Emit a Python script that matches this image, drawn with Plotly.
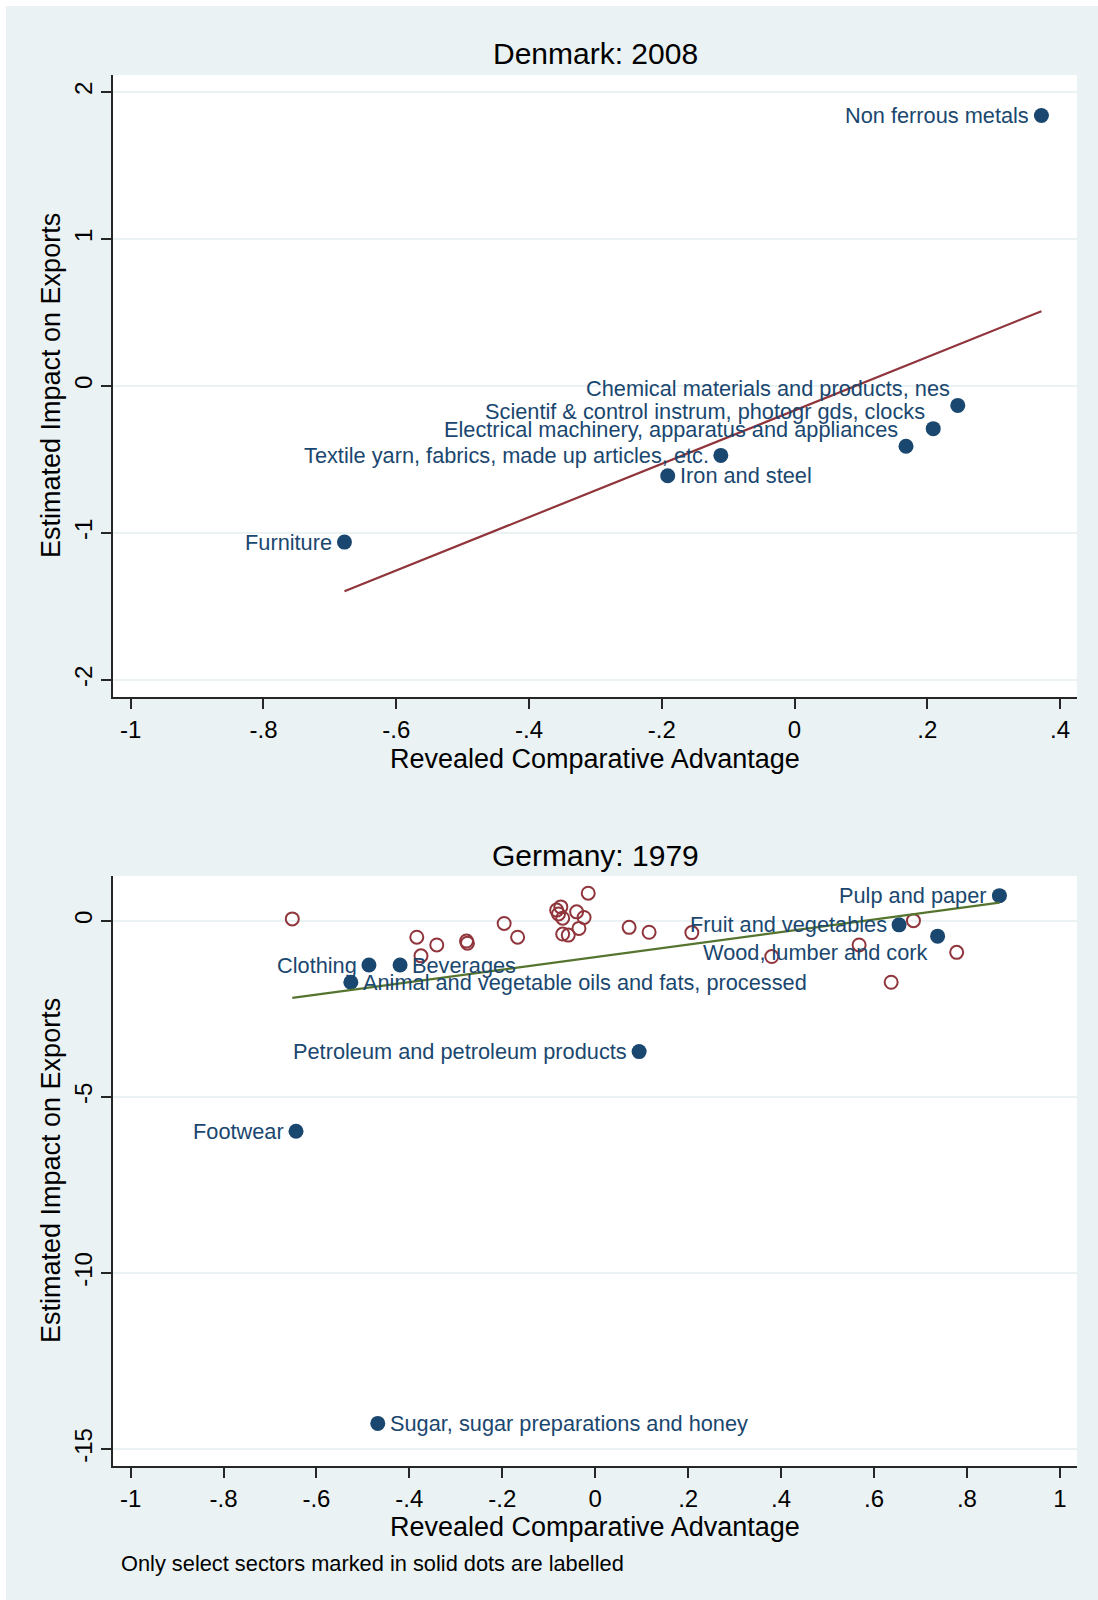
import numpy as np
import plotly.graph_objects as go

# ---------------- data ----------------
# Denmark: 2008 (all labelled)
dk_sectors = [
    "Non ferrous metals",
    "Chemical materials and products, nes",
    "Scientif & control instrum, photogr gds, clocks",
    "Electrical machinery, apparatus and appliances",
    "Textile yarn, fabrics, made up articles, etc.",
    "Iron and steel",
    "Furniture",
]
dk_rca = [0.372, 0.246, 0.209, 0.168, -0.111, -0.191, -0.678]
dk_impact = [1.84, -0.132, -0.29, -0.41, -0.472, -0.611, -1.062]

# Germany: 1979 labelled (solid dots)
de_sectors = [
    "Pulp and paper",
    "Fruit and vegetables",
    "Wood, lumber and cork",
    "Clothing",
    "Beverages",
    "Animal and vegetable oils and fats, processed",
    "Petroleum and petroleum products",
    "Footwear",
    "Sugar, sugar preparations and honey",
]
de_rca = [0.870, 0.654, 0.737, -0.487, -0.420, -0.526, 0.0945, -0.644, -0.468]
de_impact = [0.72, -0.11, -0.43, -1.25, -1.25, -1.74, -3.71, -5.97, -14.27]

# Germany: 1979 other sectors (hollow, unlabelled)
de_other_rca = [-0.652, -0.384, -0.341, -0.375, -0.277, -0.275, -0.196, -0.167,
                -0.083, -0.074, -0.079, -0.070, -0.040, -0.015, -0.024, -0.035,
                -0.070, -0.058, 0.073, 0.116, 0.208, 0.380, 0.568, 0.685,
                0.778, 0.637]
de_other_impact = [0.06, -0.46, -0.68, -0.99, -0.57, -0.63, -0.07, -0.46,
                   0.31, 0.40, 0.20, 0.08, 0.26, 0.79, 0.10, -0.21,
                   -0.37, -0.40, -0.18, -0.32, -0.33, -1.01, -0.68, 0.01,
                   -0.89, -1.74]

dk_xtick_vals = [-1, -0.8, -0.6, -0.4, -0.2, 0, 0.2, 0.4]
dk_xtick_text = ["-1", "-.8", "-.6", "-.4", "-.2", "0", ".2", ".4"]
dk_ytick_vals = [2, 1, 0, -1, -2]
dk_ytick_text = ["2", "1", "0", "-1", "-2"]
de_xtick_vals = [-1, -0.8, -0.6, -0.4, -0.2, 0, 0.2, 0.4, 0.6, 0.8, 1]
de_xtick_text = ["-1", "-.8", "-.6", "-.4", "-.2", "0", ".2", ".4", ".6", ".8", "1"]
de_ytick_vals = [0, -5, -10, -15]
de_ytick_text = ["0", "-5", "-10", "-15"]

# ---------------- style ----------------
NAVY = "#1A476F"
MAROON = "#90353B"
GREEN = "#55752F"
BG = "#EAF2F3"
AXC = "#262626"
FONT = "Liberation Sans, Arial, Helvetica, sans-serif"

# label placement (Stata clock positions) per sector
label_pos = {
    "Non ferrous metals": "L",
    "Chemical materials and products, nes": "TL",
    "Scientif & control instrum, photogr gds, clocks": "TL",
    "Electrical machinery, apparatus and appliances": "TL",
    "Textile yarn, fabrics, made up articles, etc.": "L",
    "Iron and steel": "R",
    "Furniture": "L",
    "Pulp and paper": "L",
    "Fruit and vegetables": "L",
    "Wood, lumber and cork": "BL",
    "Clothing": "L",
    "Beverages": "R",
    "Animal and vegetable oils and fats, processed": "R",
    "Petroleum and petroleum products": "L",
    "Footwear": "L",
    "Sugar, sugar preparations and honey": "R",
}
pos_style = {
    "L": dict(xanchor="right", xshift=-10, yshift=0),
    "R": dict(xanchor="left", xshift=10, yshift=0),
    "TL": dict(xanchor="right", xshift=-6, yshift=17),
    "BL": dict(xanchor="right", xshift=-8, yshift=-16),
}

W, H = 1098, 1600
ML, MR, MT, MB = 113, 21, 75, 134
PW, PH = W - ML - MR, H - MT - MB


def px(p):
    return (p - ML) / PW


def py(p):
    return (H - MB - p) / PH


fig = go.Figure()

# Denmark
fig.add_trace(go.Scatter(x=dk_rca, y=dk_impact, mode="markers",
                         marker=dict(color=NAVY, size=15, line=dict(width=0)),
                         xaxis="x", yaxis="y", showlegend=False, hoverinfo="skip"))
c = np.polyfit(dk_rca, dk_impact, 1)
xs = np.array([min(dk_rca), max(dk_rca)])
fig.add_trace(go.Scatter(x=xs, y=np.polyval(c, xs), mode="lines",
                         line=dict(color=MAROON, width=2.2),
                         xaxis="x", yaxis="y", showlegend=False, hoverinfo="skip"))

# Germany
fig.add_trace(go.Scatter(x=de_other_rca, y=de_other_impact, mode="markers",
                         marker=dict(symbol="circle-open", color=MAROON, size=13,
                                     line=dict(width=2, color=MAROON)),
                         xaxis="x2", yaxis="y2", showlegend=False, hoverinfo="skip"))
fig.add_trace(go.Scatter(x=de_rca, y=de_impact, mode="markers",
                         marker=dict(color=NAVY, size=15, line=dict(width=0)),
                         xaxis="x2", yaxis="y2", showlegend=False, hoverinfo="skip"))
all_x = de_rca + de_other_rca
all_y = de_impact + de_other_impact
c2 = np.polyfit(all_x, all_y, 1)
xs2 = np.array([min(all_x), max(all_x)])
fig.add_trace(go.Scatter(x=xs2, y=np.polyval(c2, xs2), mode="lines",
                         line=dict(color=GREEN, width=2.2),
                         xaxis="x2", yaxis="y2", showlegend=False, hoverinfo="skip"))

annotations = []
for names, xv, yv, xr, yr in [(dk_sectors, dk_rca, dk_impact, "x", "y"),
                              (de_sectors, de_rca, de_impact, "x2", "y2")]:
    for n, a, b in zip(names, xv, yv):
        st = pos_style[label_pos[n]]
        annotations.append(dict(x=a, y=b, xref=xr, yref=yr, text=n, showarrow=False,
                                yanchor="middle", font=dict(size=21.75, color=NAVY, family=FONT),
                                **st))

def txt(text, x, y, size, xanchor="center", angle=0):
    return dict(text=text, x=x, y=y, xref="paper", yref="paper", showarrow=False,
                xanchor=xanchor, yanchor="middle", textangle=angle,
                font=dict(size=size, color="black", family=FONT))

annotations += [
    txt("Denmark: 2008", 0.5, py(53), 30),
    txt("Germany: 1979", 0.5, py(855), 30),
    txt("Revealed Comparative Advantage", 0.5, py(759), 27),
    txt("Revealed Comparative Advantage", 0.5, py(1527), 27),
    txt("Estimated Impact on Exports", px(51), py(386), 27, angle=-90),
    txt("Estimated Impact on Exports", px(51), py(1171), 27, angle=-90),
    txt("Only select sectors marked in solid dots are labelled", px(119), py(1563), 21.8, xanchor="left"),
]

axis_common = dict(showline=True, linecolor=AXC, linewidth=1.5, ticks="outside",
                   ticklen=10, tickwidth=1.5, tickcolor=AXC, zeroline=False,
                   tickfont=dict(size=24, color="black", family=FONT), tickmode="array")
xcommon = dict(axis_common, showgrid=False)
ycommon = dict(axis_common, showgrid=True, gridcolor=BG, gridwidth=2, tickangle=-90)

fig.update_layout(
    width=W, height=H,
    margin=dict(l=ML, r=MR, t=MT, b=MB, pad=0),
    paper_bgcolor=BG, plot_bgcolor="white",
    font=dict(family=FONT),
    showlegend=False,
    xaxis=dict(xcommon, domain=[0, 1], anchor="y", range=[-1.0267, 0.4256],
               tickvals=dk_xtick_vals, ticktext=dk_xtick_text),
    yaxis=dict(ycommon, domain=[py(697), 1], anchor="x", range=[-2.1156, 2.1156],
               tickvals=dk_ytick_vals, ticktext=dk_ytick_text),
    xaxis2=dict(xcommon, domain=[0, 1], anchor="y2", range=[-1.0379, 1.037],
                tickvals=de_xtick_vals, ticktext=de_xtick_text),
    yaxis2=dict(ycommon, domain=[0, py(876)], anchor="x2", range=[-15.48, 1.278],
                tickvals=de_ytick_vals, ticktext=de_ytick_text),
    annotations=annotations,
    shapes=[
        dict(type="rect", xref="paper", yref="paper", x0=px(0), x1=px(6), y0=py(H), y1=py(0),
             fillcolor="white", line=dict(width=0), layer="above"),
        dict(type="rect", xref="paper", yref="paper", x0=px(0), x1=px(W), y0=py(6), y1=py(0),
             fillcolor="white", line=dict(width=0), layer="above"),
    ],
)

fig.write_html("out.html", config={"displayModeBar": False},
               post_script="document.body.style.margin='0';document.body.style.overflow='hidden';")
